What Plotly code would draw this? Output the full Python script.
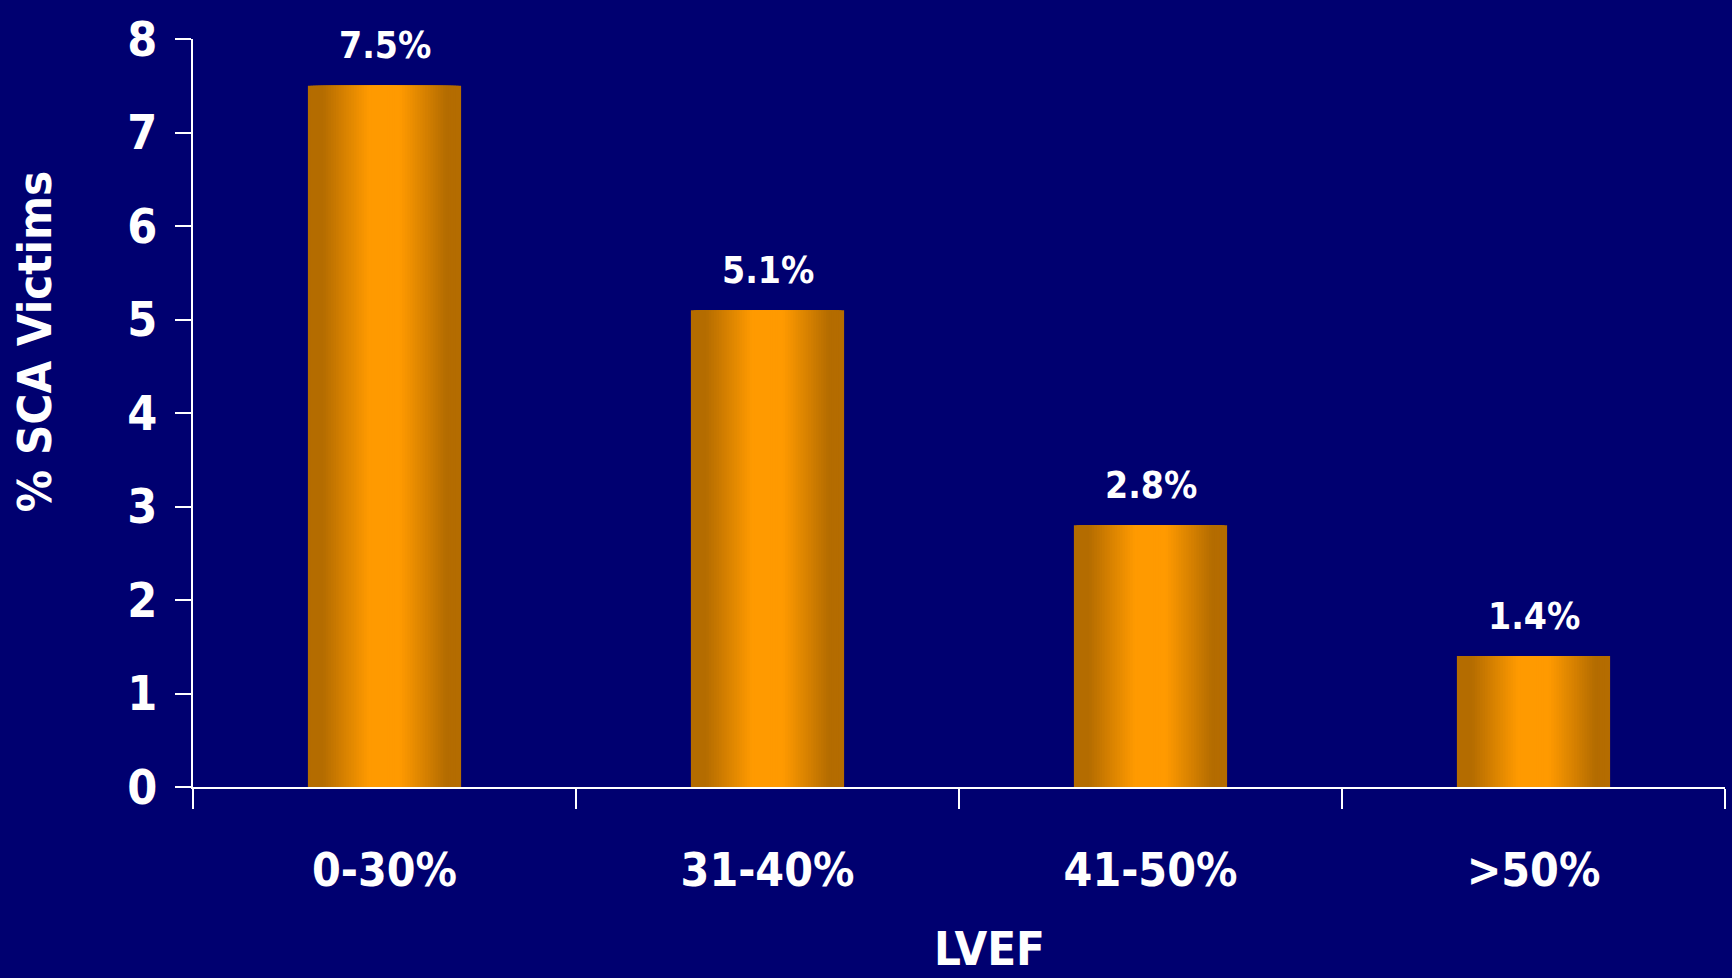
import plotly.graph_objects as go

categories = ["0-30%", "31-40%", "41-50%", ">50%"]
values = [7.5, 5.1, 2.8, 1.4]
value_labels = ["7.5%", "5.1%", "2.8%", "1.4%"]
y_ticks = [0, 1, 2, 3, 4, 5, 6, 7, 8]

FONT = "Liberation Sans Narrow, DejaVu Sans Condensed, Liberation Sans, Arial"
BG = "#000070"
DARK = (180, 108, 0)
BRIGHT = (255, 154, 0)

def mix(t):
    r = [round(DARK[i] + (BRIGHT[i] - DARK[i]) * t) for i in range(3)]
    return f"rgb({r[0]},{r[1]},{r[2]})"

fig = go.Figure()
N = 30
BW = 0.4
for k in range(N):
    frac = 1 - k / N  # normalized half-width (1 = edge)
    if frac > 0.82:
        t = 0.0
    elif frac < 0.22:
        t = 1.0
    else:
        t = (0.82 - frac) / 0.60
    fig.add_trace(go.Bar(
        x=categories, y=values, width=BW * frac,
        marker=dict(color=mix(t), line=dict(width=0)),
        hoverinfo="skip", showlegend=False,
    ))

for c, v, lab in zip(categories, values, value_labels):
    fig.add_annotation(x=c, y=v, text=lab, showarrow=False, yshift=40,
                       yanchor="middle", xanchor="center",
                       font=dict(family=FONT, size=37, color="white", weight="bold"))

fig.add_annotation(xref="paper", yref="paper", x=-0.103, y=0.595,
                   text="% SCA Victims", textangle=-90, showarrow=False,
                   xanchor="center", yanchor="middle",
                   font=dict(family=FONT, size=47, color="white", weight="bold"))
fig.add_annotation(xref="paper", yref="paper", x=0.52, y=-191 / 748,
                   text="LVEF", showarrow=False,
                   xanchor="center", yanchor="bottom",
                   font=dict(family=FONT, size=47, color="white", weight="bold"))

fig.update_layout(
    width=1732, height=978,
    paper_bgcolor=BG, plot_bgcolor=BG,
    barmode="overlay",
    margin=dict(l=193, r=7, t=39, b=191),
    font=dict(family=FONT, color="white"),
    xaxis=dict(
        range=[-0.5, 3.5], showgrid=False, zeroline=False,
        showline=True, linecolor="white", linewidth=2,
        ticks="outside", tickson="boundaries", ticklen=20, tickwidth=2,
        tickcolor="white", ticklabelstandoff=42,
        tickfont=dict(family=FONT, size=46, color="white", weight="bold"),
    ),
    yaxis=dict(
        range=[0, 8], tickvals=y_ticks, showgrid=False, zeroline=False,
        showline=True, linecolor="white", linewidth=2,
        ticks="outside", ticklen=16, tickwidth=2, tickcolor="white",
        ticklabelstandoff=8,
        tickfont=dict(family=FONT, size=48, color="white", weight="bold"),
    ),
)

fig.write_html("out.html")
